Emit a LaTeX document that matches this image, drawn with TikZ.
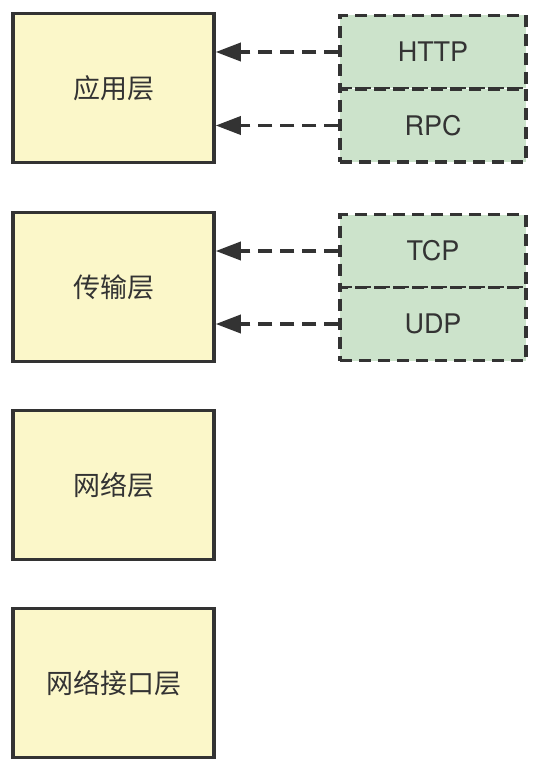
\documentclass[tikz,border=0pt]{standalone}
\usepackage{fontspec}
\setmainfont{TeX Gyre Heros}
\newfontfamily\cjk{Noto Sans CJK SC}
\usetikzlibrary{arrows.meta}
\definecolor{layerfill}{RGB}{251,247,201}
\definecolor{protofill}{RGB}{204,227,203}
\definecolor{inkgray}{RGB}{51,51,51}
\begin{document}
\begin{tikzpicture}[x=1pt,y=-1pt,
        layer/.style={draw=inkgray,line width=3.5pt,fill=layerfill,minimum width=201pt,minimum height=149pt,inner sep=0pt,font=\cjk\fontsize{27}{32}\selectfont,text=inkgray},
        proto/.style={draw=inkgray,line width=3.5pt,dash pattern=on 12pt off 7pt,fill=protofill,minimum width=186pt,minimum height=73pt,inner sep=0pt,font=\fontsize{27}{32}\selectfont,text=inkgray},
        uses/.style={draw=inkgray,line width=3.5pt,dash pattern=on 14pt off 8pt,-{Triangle[length=25pt,width=18pt]}}]
            \useasboundingbox (0,0) rectangle (546,778);
            \foreach \y/\t [count=\i] in {88/应用层,287/传输层,485/网络层,683/网络接口层}{
                \node[layer] at (113.5,\y)(layer\i){\t};
            }
            %\node[draw] at (433,250){};
            \node[proto] at (433,52)(http){HTTP};
            \node[proto] at (433,125.5)(rpc){RPC};
            \node[proto] at (433,251)(tcp){TCP};
            \node[proto] at (433,324)(udp){UDP};
            \draw[uses] (http.west) -- (layer1.east |- http.west);
            \draw[uses] (rpc.west) -- (layer1.east |- rpc.west);
            \draw[uses] (tcp.west) -- (layer2.east |- tcp.west);
            \draw[uses] (udp.west) -- (layer2.east |- udp.west);
        \end{tikzpicture}
\end{document}
